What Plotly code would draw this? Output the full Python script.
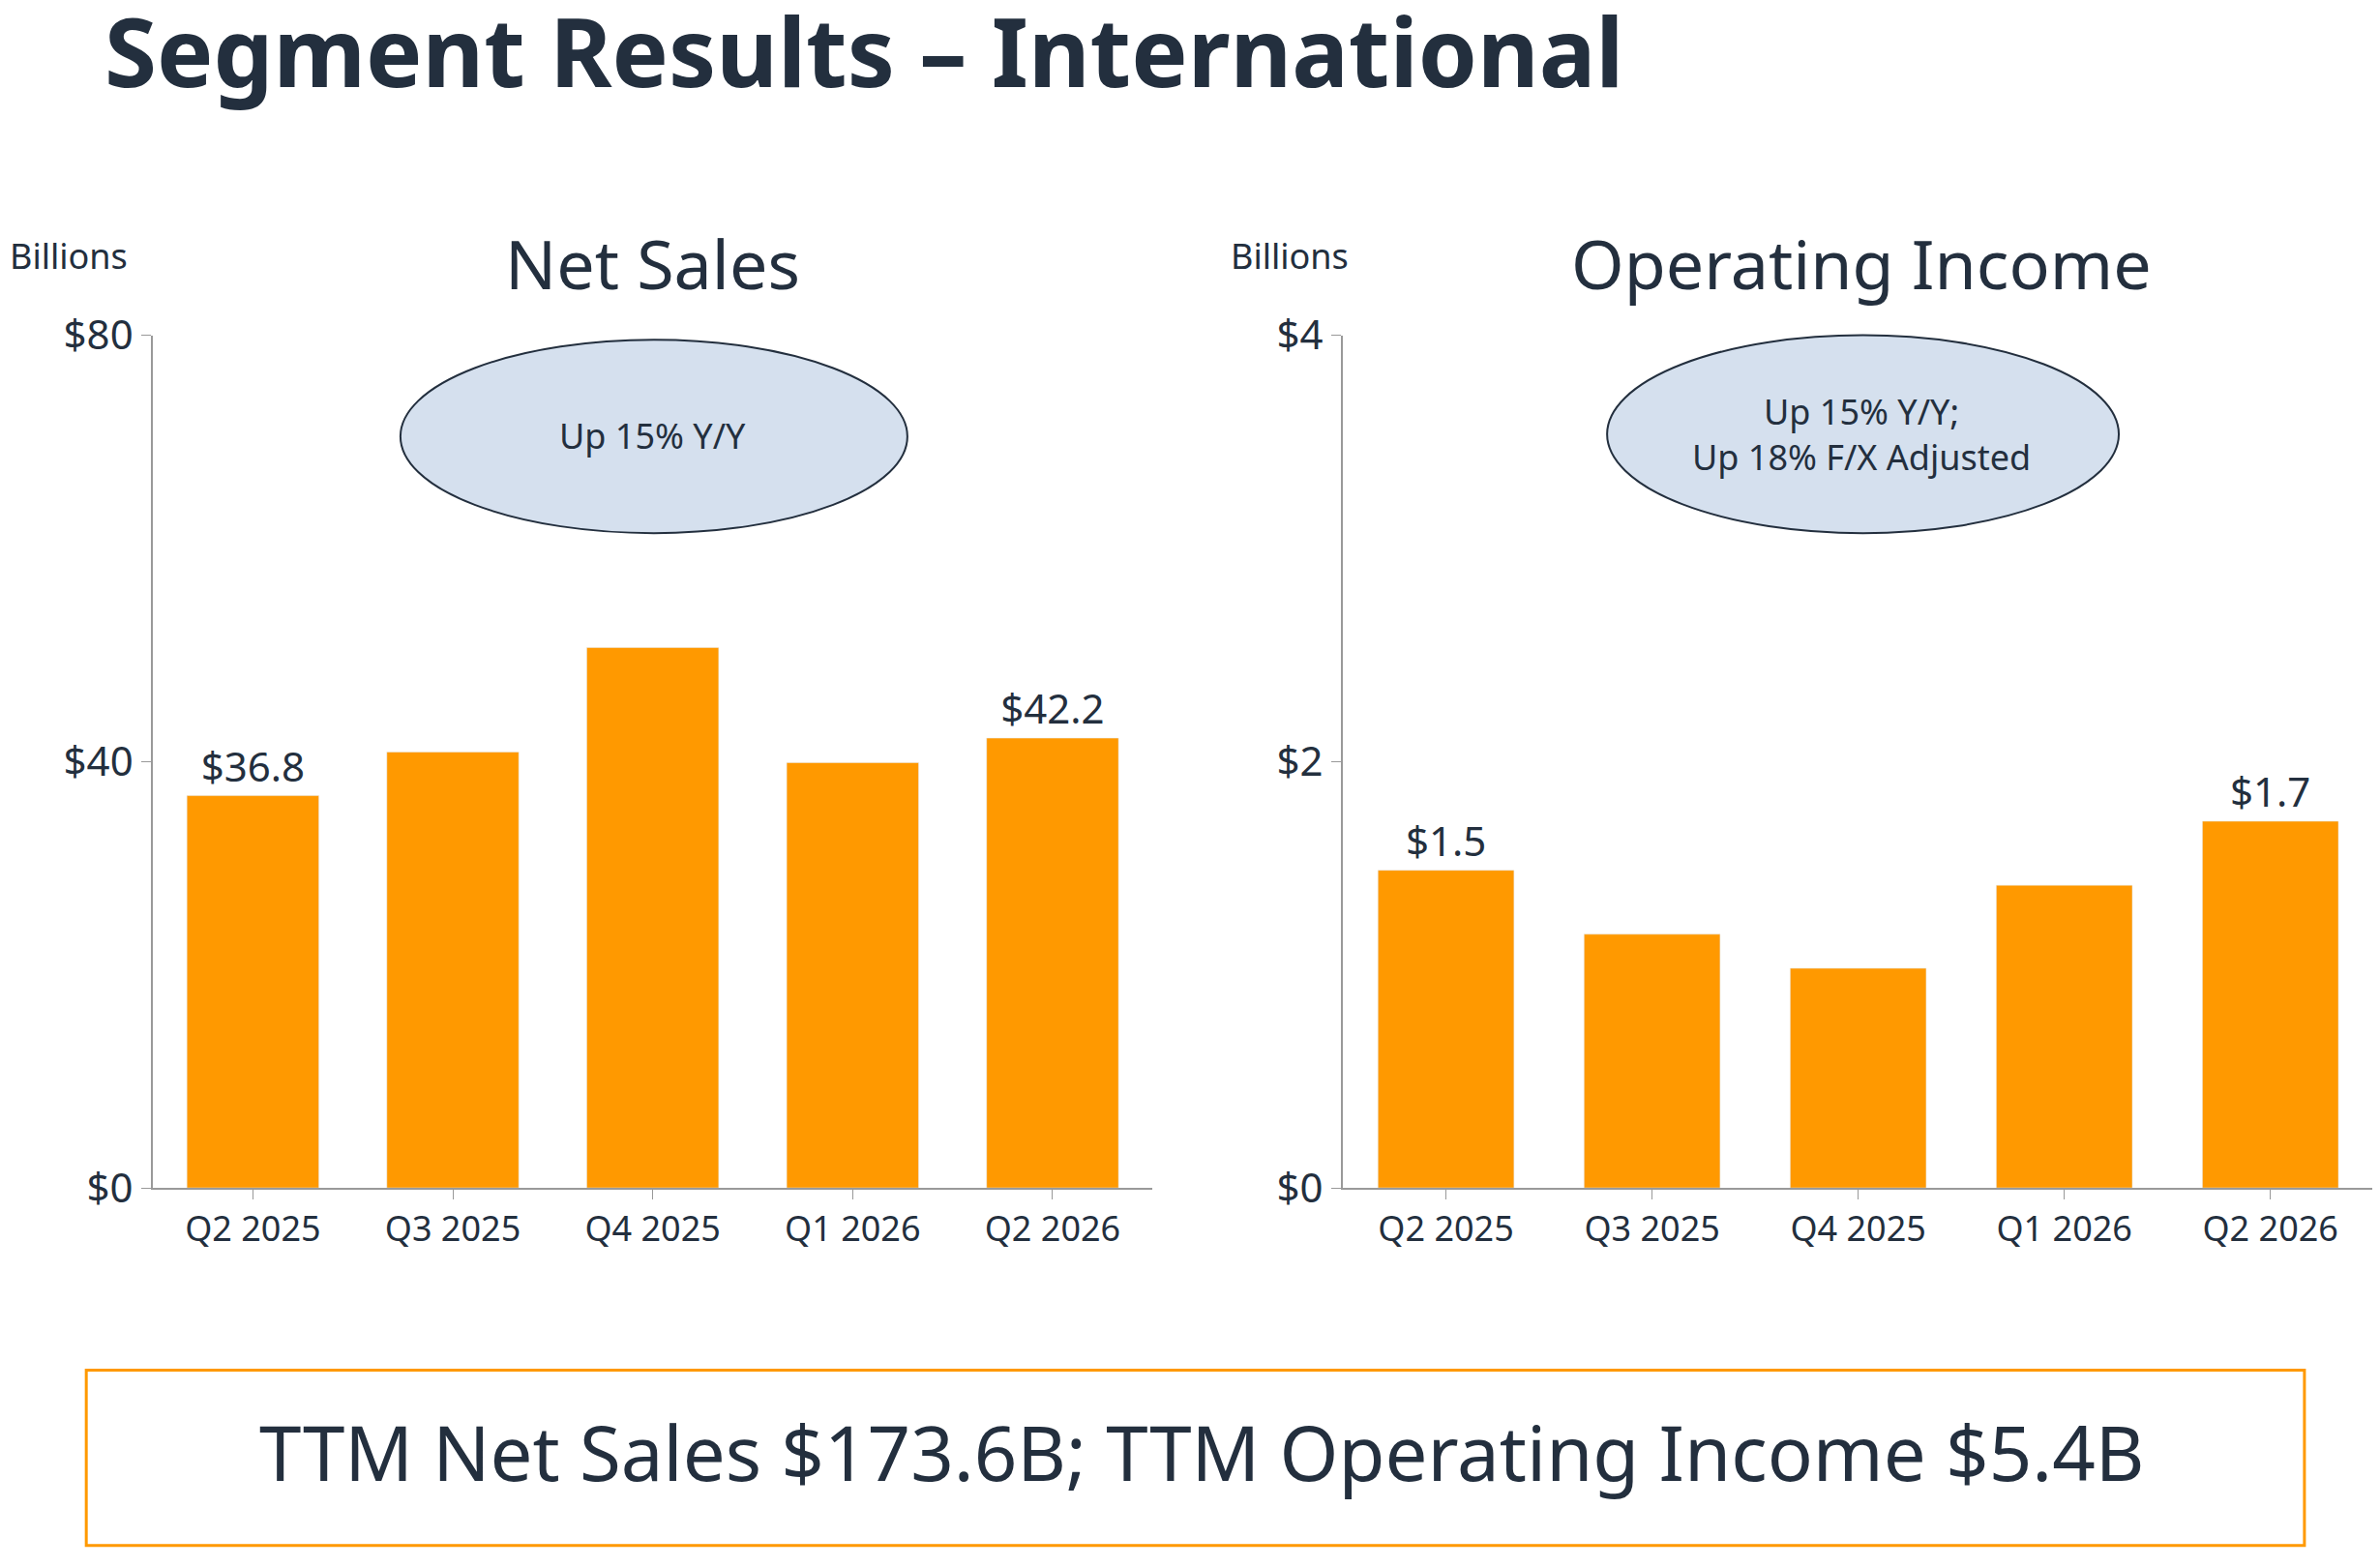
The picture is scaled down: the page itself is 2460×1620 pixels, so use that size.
import plotly.graph_objects as go

quarters = ["Q2 2025", "Q3 2025", "Q4 2025", "Q1 2026", "Q2 2026"]
net_sales = [36.8, 40.9, 50.7, 39.9, 42.2]
op_income = [1.49, 1.19, 1.03, 1.42, 1.72]
sales_labels = ["$36.8", "", "", "", "$42.2"]
income_labels = ["$1.5", "", "", "", "$1.7"]

ORANGE = "#FF9900"
INK = "#232F3E"
FONT = "Noto Sans"

fig = go.Figure()
fig.add_bar(x=quarters, y=net_sales, text=sales_labels, textposition="outside",
            marker_color=ORANGE, width=0.66, xaxis="x", yaxis="y",
            textfont=dict(size=42, color=INK), cliponaxis=False)
fig.add_bar(x=quarters, y=op_income, text=income_labels, textposition="outside",
            marker_color=ORANGE, width=0.66, xaxis="x2", yaxis="y2",
            textfont=dict(size=42, color=INK), cliponaxis=False)

xax = dict(showline=True, linecolor="#999", linewidth=2, ticks="outside",
           tickcolor="#999", ticklen=10, tickfont=dict(size=36, color=INK))
yax = dict(showline=True, linecolor="#999", linewidth=2, ticks="outside",
           tickcolor="#999", ticklen=10, showgrid=False, zeroline=False,
           tickfont=dict(size=42, color=INK))

fig.update_layout(
    width=2460, height=1620, showlegend=False, bargap=0.34,
    margin=dict(l=0, r=0, t=0, b=0),
    plot_bgcolor="white", paper_bgcolor="white",
    font=dict(family=FONT, color=INK),
    xaxis=dict(xax, domain=[0.061, 0.481], anchor="y"),
    yaxis=dict(yax, domain=[0.2386, 0.8026], range=[0, 80], tickvals=[0, 40, 80],
               ticktext=["$0", "$40", "$80"], anchor="x"),
    xaxis2=dict(xax, domain=[0.561, 0.994], anchor="y2"),
    yaxis2=dict(yax, domain=[0.2386, 0.8026], range=[0, 4], tickvals=[0, 2, 4],
                ticktext=["$0", "$2", "$4"], anchor="x2"),
)

def note(text, x, y, size, xanchor="center"):
    fig.add_annotation(text=text, x=x, y=y, xref="paper", yref="paper",
                       xanchor=xanchor, yanchor="middle", showarrow=False,
                       font=dict(size=size, color=INK))

note("<b>Segment Results – International</b>", 0.040, 0.991, 98, "left")
note("Net Sales", 0.271, 0.850, 70)
note("Operating Income", 0.779, 0.850, 70)
note("Billions", 0.0, 0.855, 36, "left")
note("Billions", 0.513, 0.855, 36, "left")

fig.add_shape(type="circle", xref="paper", yref="paper", x0=0.165, x1=0.378,
              y0=0.6717, y1=0.7996, fillcolor="#D5E0EE", line=dict(color=INK, width=2))
fig.add_shape(type="circle", xref="paper", yref="paper", x0=0.672, x1=0.887,
              y0=0.6717, y1=0.8026, fillcolor="#D5E0EE", line=dict(color=INK, width=2))
note("Up 15% Y/Y", 0.271, 0.736, 36)
note("Up 15% Y/Y;<br>Up 18% F/X Adjusted", 0.779, 0.737, 36)

fig.add_shape(type="rect", xref="paper", yref="paper", x0=0.033, x1=0.965,
              y0=0.002, y1=0.118, line=dict(color=ORANGE, width=3))
note("TTM Net Sales $173.6B; TTM Operating Income $5.4B", 0.502, 0.064, 78)

fig.write_html("out.html")
